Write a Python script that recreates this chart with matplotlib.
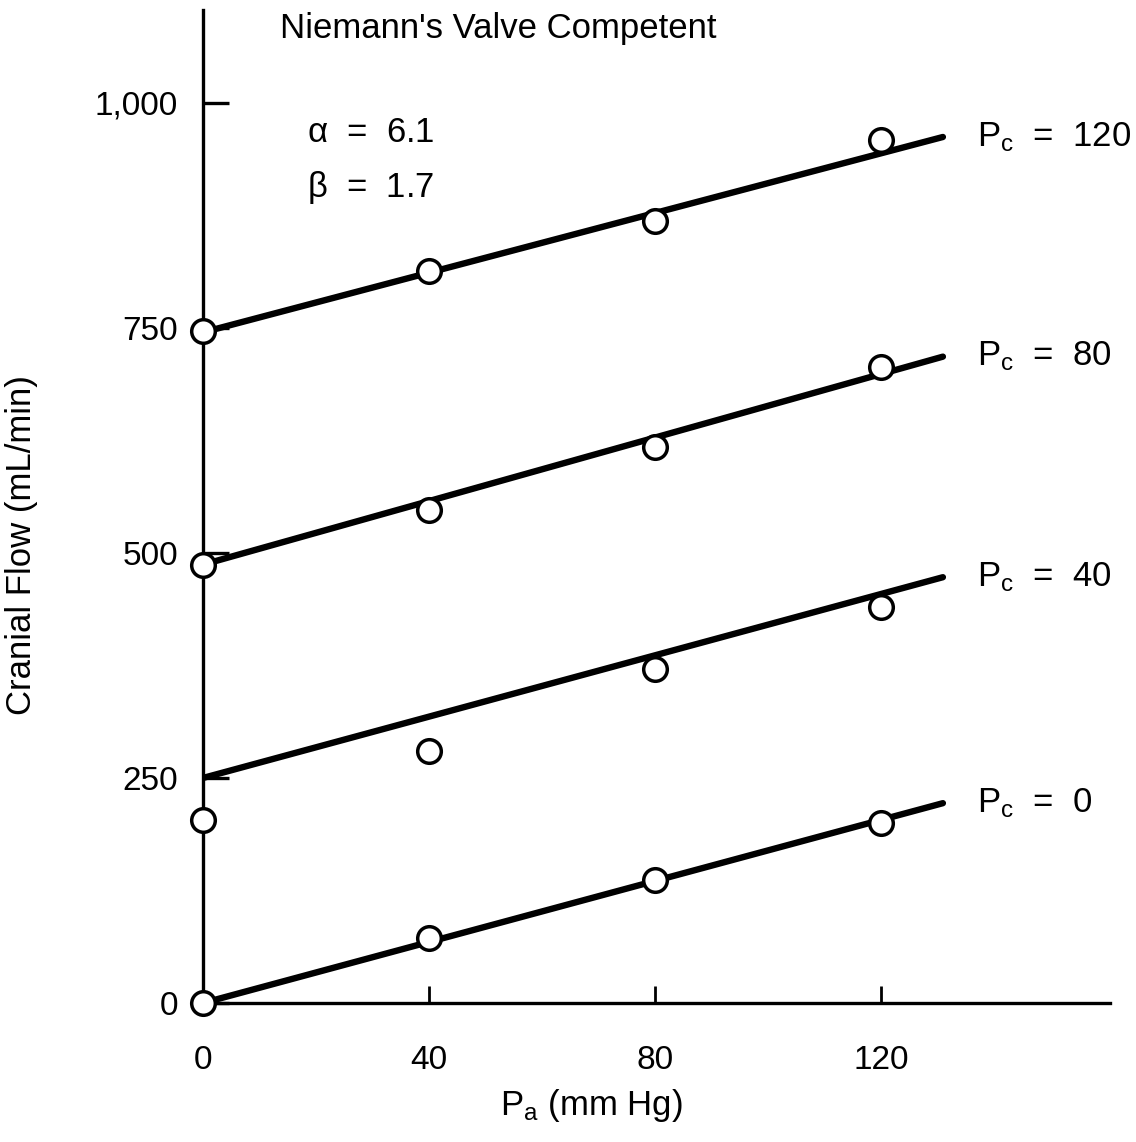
import matplotlib.pyplot as plt

plt.rcParams['font.family'] = ['Liberation Sans', 'DejaVu Sans']
plt.rcParams['mathtext.fontset'] = 'custom'
plt.rcParams['mathtext.rm'] = 'Liberation Sans'
plt.rcParams['mathtext.it'] = 'Liberation Sans'

# Measured points (P_a, cranial flow) for each P_c
pa = [0, 40, 80, 120]
pc_values = [0, 40, 80, 120]
flow_pc0 = [0, 72, 137, 200]
flow_pc40 = [203, 280, 371, 440]
flow_pc80 = [487, 548, 618, 707]
flow_pc120 = [746, 813, 869, 959]
flows = [flow_pc0, flow_pc40, flow_pc80, flow_pc120]

# Fitted lines, end points
fit_x = [0, 131]
fit_pc0 = [0, 222]
fit_pc40 = [250, 473]
fit_pc80 = [487, 718]
fit_pc120 = [745, 962]
fits = [fit_pc0, fit_pc40, fit_pc80, fit_pc120]

x_ticks = [0, 40, 80, 120]
y_ticks = [0, 250, 500, 750, 1000]
y_ticklabels = ['0', '250', '500', '750', '1,000']

fs = 25

fig = plt.figure(figsize=(11.36, 11.42), dpi=100)
ax = fig.add_axes([0.1787, 0.1217, 0.798, 0.8695])

for pc, flow, fit in zip(pc_values, flows, fits):
    ax.plot(fit_x, fit, color='black', lw=4.6, solid_capstyle='round', zorder=3)
    ax.plot(pa, flow, 'o', ms=17, mfc='white', mec='black', mew=2.5,
            clip_on=False, zorder=5)
    ax.text(137, fit[1], r'P$_\mathrm{c}$  =  ' + str(pc), fontsize=fs,
            va='center', ha='left')

ax.set_xlim(0, 160.5)
ax.set_ylim(0, 1103)

for s in ['top', 'right']:
    ax.spines[s].set_visible(False)
for s in ['left', 'bottom']:
    ax.spines[s].set_linewidth(2.4)

ax.set_xticks(x_ticks)
ax.set_yticks(y_ticks)
ax.set_yticklabels(y_ticklabels)
ax.tick_params(axis='x', direction='in', length=12, width=2, pad=30,
               labelsize=24)
ax.tick_params(axis='y', direction='in', length=19, width=2.4, pad=18,
               labelsize=24)

ax.text(13.6, 1083, "Niemann's Valve Competent", fontsize=fs, va='center',
        ha='left')
ax.text(18.5, 967, r'$\alpha$  =  6.1', fontsize=fs, va='center', ha='left')
ax.text(18.5, 906, r'$\beta$  =  1.7', fontsize=fs, va='center', ha='left')

ax.set_xlabel(r'P$_\mathrm{a}$ (mm Hg)', fontsize=fs)
ax.set_ylabel('Cranial Flow (mL/min)', fontsize=fs)
ax.xaxis.set_label_coords(0.428, -0.085)
ax.yaxis.set_label_coords(-0.182, 0.461)

fig.savefig('out.png', dpi=100)
